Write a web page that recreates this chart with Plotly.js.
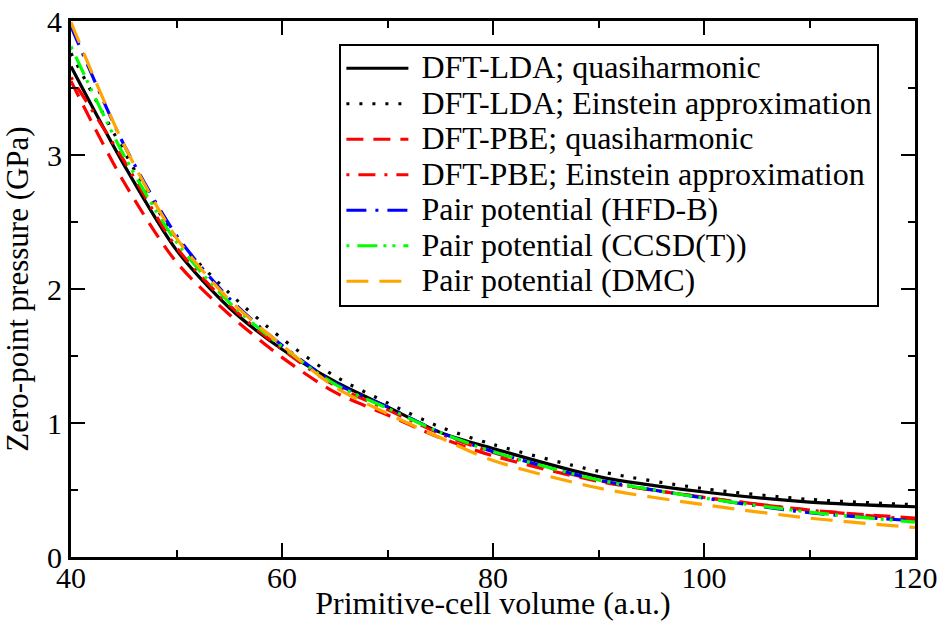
<!DOCTYPE html>
<html>
<head>
<meta charset="utf-8">
<script src="https://cdn.plot.ly/plotly-3.0.1.min.js"></script>
<style>html,body{margin:0;padding:0;background:#fff;}#chart{width:943px;height:621px;}</style>
</head>
<body>
<div id="chart"></div>
<script>
// Primitive-cell volume (a.u.)
var volume = [40, 45, 50, 55, 60, 65, 70, 75, 80, 90, 100, 110, 120];
// Zero-point pressure (GPa)
var ldaQuasiharmonic = [3.66, 2.93, 2.29, 1.86, 1.55, 1.31, 1.12, 0.93, 0.81, 0.60, 0.485, 0.41, 0.375];
var ldaEinstein      = [3.76, 3.03, 2.38, 1.97, 1.63, 1.35, 1.15, 0.97, 0.84, 0.64, 0.51, 0.43, 0.39];
var pbeQuasiharmonic = [3.55, 2.80, 2.20, 1.81, 1.49, 1.23, 1.06, 0.89, 0.755, 0.565, 0.445, 0.35, 0.29];
var pbeEinstein      = [3.58, 2.96, 2.31, 1.88, 1.55, 1.28, 1.10, 0.92, 0.78, 0.57, 0.445, 0.35, 0.28];
var pairHFDB         = [3.96, 3.08, 2.40, 1.93, 1.58, 1.30, 1.12, 0.93, 0.786, 0.575, 0.44, 0.33, 0.27];
var pairCCSDT        = [3.81, 3.00, 2.35, 1.90, 1.57, 1.29, 1.11, 0.93, 0.786, 0.575, 0.44, 0.335, 0.26];
var pairDMC          = [3.99, 3.08, 2.38, 1.92, 1.58, 1.27, 1.07, 0.89, 0.72, 0.515, 0.39, 0.29, 0.22];

var seriesNames = [
  "DFT-LDA; quasiharmonic",
  "DFT-LDA; Einstein approximation",
  "DFT-PBE; quasiharmonic",
  "DFT-PBE; Einstein approximation",
  "Pair potential (HFD-B)",
  "Pair potential (CCSD(T))",
  "Pair potential (DMC)"
];
var seriesValues = [ldaQuasiharmonic, ldaEinstein, pbeQuasiharmonic, pbeEinstein, pairHFDB, pairCCSDT, pairDMC];
var seriesColors = ["#000000", "#000000", "#ff0000", "#ff0000", "#0000ff", "#00ff00", "#ffa500"];
var seriesDash = ["solid", "3px,10px", "17px,10px", "3px,9px,17px,9px", "20px,9px,3px,9px", "3px,8px,20px,6px,3px,6px", "22px,11px"];

var traces = seriesValues.map(function (vals, i) {
  return {
    x: volume,
    y: vals,
    type: "scatter",
    mode: "lines",
    name: '<span style="font-size:32px">&nbsp;' + seriesNames[i] + '</span>',
    line: {color: seriesColors[i], width: 3.2, dash: seriesDash[i], shape: "spline", smoothing: 0.8},
    hoverinfo: "skip"
  };
});

var fontFam = '"Liberation Serif", serif';
var layout = {
  width: 943,
  height: 621,
  margin: {l: 70.5, r: 28, t: 20.5, b: 64},
  paper_bgcolor: "#ffffff",
  plot_bgcolor: "#ffffff",
  font: {family: fontFam, color: "#000000", size: 30},
  showlegend: true,
  legend: {
    x: 0.318, y: 0.958, xanchor: "left", yanchor: "top",
    bgcolor: "#ffffff", bordercolor: "#000000", borderwidth: 2,
    font: {family: fontFam, size: 25, color: "#000000"},
    itemwidth: 62,
    traceorder: "normal"
  },
  xaxis: {
    range: [40, 120],
    dtick: 20,
    tick0: 40,
    ticks: "inside",
    ticklen: 14,
    tickwidth: 2,
    tickcolor: "#000000",
    ticklabelstandoff: -8,
    minor: {dtick: 10, ticks: "inside", ticklen: 7, tickwidth: 2, tickcolor: "#000000"},
    showline: true,
    linewidth: 3,
    linecolor: "#000000",
    mirror: "allticks",
    showgrid: false,
    zeroline: false,
    tickfont: {family: fontFam, size: 30, color: "#000000"},
    title: {text: "Primitive-cell volume (a.u.)", font: {family: fontFam, size: 32, color: "#000000"}, standoff: 1}
  },
  yaxis: {
    range: [0, 4],
    dtick: 1,
    tick0: 0,
    ticks: "inside",
    ticklen: 14,
    tickwidth: 2,
    tickcolor: "#000000",
    minor: {dtick: 0.5, ticks: "inside", ticklen: 7, tickwidth: 2, tickcolor: "#000000"},
    showline: true,
    linewidth: 3,
    linecolor: "#000000",
    mirror: "allticks",
    showgrid: false,
    zeroline: false,
    tickfont: {family: fontFam, size: 30, color: "#000000"},
    title: {text: "Zero-point pressure (GPa)", font: {family: fontFam, size: 31, color: "#000000"}, standoff: 10}
  }
};

Plotly.newPlot("chart", traces, layout, {displayModeBar: false, staticPlot: true});
</script>
</body>
</html>
